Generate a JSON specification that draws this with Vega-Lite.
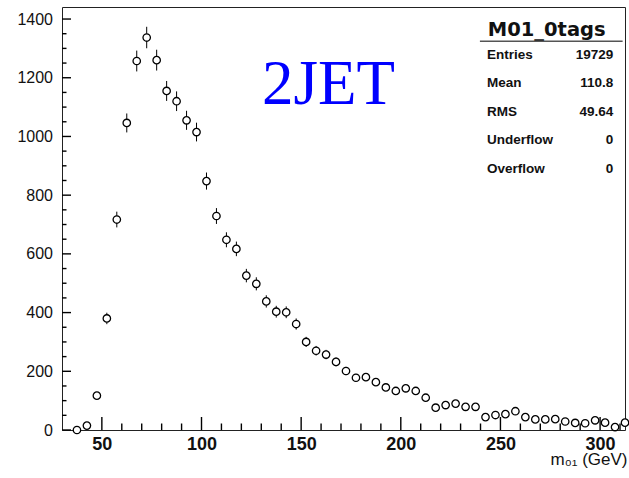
{
  "$schema": "https://vega.github.io/schema/vega-lite/v6.json",
  "width": 563,
  "height": 423,
  "autosize": {"type": "none"},
  "padding": {"left": 62, "top": 7, "right": 4, "bottom": 48},
  "background": "white",
  "config": {
    "font": "Liberation Sans",
    "view": {"stroke": "#222", "strokeWidth": 1},
    "axis": {"grid": false, "domain": false, "ticks": false, "labelFlush": false, "labelColor": "#111"}
  },
  "datasets": {
    "hist": [
      {"x": 37.5, "y": 0, "lo": 0, "hi": 0},
      {"x": 42.5, "y": 15, "lo": 11.1, "hi": 18.9},
      {"x": 47.5, "y": 117, "lo": 106.2, "hi": 127.8},
      {"x": 52.5, "y": 380, "lo": 360.5, "hi": 399.5},
      {"x": 57.5, "y": 717, "lo": 690.2, "hi": 743.8},
      {"x": 62.5, "y": 1046, "lo": 1013.7, "hi": 1078.3},
      {"x": 67.5, "y": 1257, "lo": 1221.5, "hi": 1292.5},
      {"x": 72.5, "y": 1337, "lo": 1300.4, "hi": 1373.6},
      {"x": 77.5, "y": 1260, "lo": 1224.5, "hi": 1295.5},
      {"x": 82.5, "y": 1155, "lo": 1121, "hi": 1189},
      {"x": 87.5, "y": 1120, "lo": 1086.5, "hi": 1153.5},
      {"x": 92.5, "y": 1055, "lo": 1022.5, "hi": 1087.5},
      {"x": 97.5, "y": 1015, "lo": 983.1, "hi": 1046.9},
      {"x": 102.5, "y": 848, "lo": 818.9, "hi": 877.1},
      {"x": 107.5, "y": 729, "lo": 702, "hi": 756},
      {"x": 112.5, "y": 648, "lo": 622.5, "hi": 673.5},
      {"x": 117.5, "y": 617, "lo": 592.2, "hi": 641.8},
      {"x": 122.5, "y": 526, "lo": 503.1, "hi": 548.9},
      {"x": 127.5, "y": 498, "lo": 475.7, "hi": 520.3},
      {"x": 132.5, "y": 438, "lo": 417.1, "hi": 458.9},
      {"x": 137.5, "y": 403, "lo": 382.9, "hi": 423.1},
      {"x": 142.5, "y": 401, "lo": 381, "hi": 421},
      {"x": 147.5, "y": 361, "lo": 342, "hi": 380},
      {"x": 152.5, "y": 300, "lo": 282.7, "hi": 317.3},
      {"x": 157.5, "y": 270, "lo": 253.6, "hi": 286.4},
      {"x": 162.5, "y": 257, "lo": 241, "hi": 273},
      {"x": 167.5, "y": 232, "lo": 216.8, "hi": 247.2},
      {"x": 172.5, "y": 201, "lo": 186.8, "hi": 215.2},
      {"x": 177.5, "y": 178, "lo": 164.7, "hi": 191.3},
      {"x": 182.5, "y": 180, "lo": 166.6, "hi": 193.4},
      {"x": 187.5, "y": 163, "lo": 150.2, "hi": 175.8},
      {"x": 192.5, "y": 145, "lo": 133, "hi": 157},
      {"x": 197.5, "y": 133, "lo": 121.5, "hi": 144.5},
      {"x": 202.5, "y": 142, "lo": 130.1, "hi": 153.9},
      {"x": 207.5, "y": 133, "lo": 121.5, "hi": 144.5},
      {"x": 212.5, "y": 110, "lo": 99.5, "hi": 120.5},
      {"x": 217.5, "y": 76, "lo": 67.3, "hi": 84.7},
      {"x": 222.5, "y": 85, "lo": 75.8, "hi": 94.2},
      {"x": 227.5, "y": 90, "lo": 80.5, "hi": 99.5},
      {"x": 232.5, "y": 79, "lo": 70.1, "hi": 87.9},
      {"x": 237.5, "y": 79, "lo": 70.1, "hi": 87.9},
      {"x": 242.5, "y": 44, "lo": 37.4, "hi": 50.6},
      {"x": 247.5, "y": 51, "lo": 43.9, "hi": 58.1},
      {"x": 252.5, "y": 54, "lo": 46.7, "hi": 61.3},
      {"x": 257.5, "y": 64, "lo": 56, "hi": 72},
      {"x": 262.5, "y": 44, "lo": 37.4, "hi": 50.6},
      {"x": 267.5, "y": 36, "lo": 30, "hi": 42},
      {"x": 272.5, "y": 36, "lo": 30, "hi": 42},
      {"x": 277.5, "y": 37, "lo": 30.9, "hi": 43.1},
      {"x": 282.5, "y": 29, "lo": 23.6, "hi": 34.4},
      {"x": 287.5, "y": 24, "lo": 19.1, "hi": 28.9},
      {"x": 292.5, "y": 23, "lo": 18.2, "hi": 27.8},
      {"x": 297.5, "y": 33, "lo": 27.3, "hi": 38.7},
      {"x": 302.5, "y": 25, "lo": 20, "hi": 30},
      {"x": 307.5, "y": 10, "lo": 6.8, "hi": 13.2},
      {"x": 312.5, "y": 25, "lo": 20, "hi": 30}
    ],
    "ymajor": [{"v": 0}, {"v": 200}, {"v": 400}, {"v": 600}, {"v": 800}, {"v": 1000}, {"v": 1200}, {"v": 1400}],
    "yminor": [{"v": 50}, {"v": 100}, {"v": 150}, {"v": 250}, {"v": 300}, {"v": 350}, {"v": 450}, {"v": 500}, {"v": 550}, {"v": 650}, {"v": 700}, {"v": 750}, {"v": 850}, {"v": 900}, {"v": 950}, {"v": 1050}, {"v": 1100}, {"v": 1150}, {"v": 1250}, {"v": 1300}, {"v": 1350}],
    "xmajor": [{"v": 50}, {"v": 100}, {"v": 150}, {"v": 200}, {"v": 250}, {"v": 300}],
    "xminor": [{"v": 60}, {"v": 70}, {"v": 80}, {"v": 90}, {"v": 110}, {"v": 120}, {"v": 130}, {"v": 140}, {"v": 160}, {"v": 170}, {"v": 180}, {"v": 190}, {"v": 210}, {"v": 220}, {"v": 230}, {"v": 240}, {"v": 260}, {"v": 270}, {"v": 280}, {"v": 290}, {"v": 310}],
    "stats": [
      {"label": "Entries", "value": "19729", "row": 1},
      {"label": "Mean", "value": "110.8", "row": 2},
      {"label": "RMS", "value": "49.64", "row": 3},
      {"label": "Underflow", "value": "0", "row": 4},
      {"label": "Overflow", "value": "0", "row": 5}
    ],
    "tag": [{"label": "2JET"}],
    "name": [{"label": "M01_0tags"}]
  },
  "resolve": {"scale": {"y": "independent"}, "axis": {"x": "independent", "y": "independent"}},
  "layer": [
    {
      "data": {"name": "hist"},
      "mark": {"type": "rule", "color": "black", "strokeWidth": 1},
      "encoding": {
        "x": {"field": "x", "type": "quantitative",
          "scale": {"domain": [30, 312.5], "nice": false, "zero": false},
          "axis": {"orient": "bottom", "values": [50, 100, 150, 200, 250, 300],
            "labelFontSize": 18, "labelFontWeight": "bold", "labelPadding": 5.5, "format": "d",
            "title": "m₀₁ (GeV)", "titleFontSize": 17, "titleFontWeight": "normal", "titleColor": "#111",
            "titleX": 565, "titleY": 34, "titleAlign": "right", "titleBaseline": "alphabetic", "titleAnchor": null}},
        "y": {"field": "lo", "type": "quantitative",
          "scale": {"domain": [0, 1441], "nice": false, "zero": false},
          "axis": {"orient": "left", "values": [0, 200, 400, 600, 800, 1000, 1200, 1400],
            "labelFontSize": 16, "labelPadding": 9.5, "format": "d", "title": null}},
        "y2": {"field": "hi"}
      }
    },
    {
      "data": {"name": "ymajor"},
      "mark": {"type": "tick", "orient": "horizontal", "size": 9, "thickness": 1.4, "color": "#000", "opacity": 1},
      "encoding": {
        "x": {"datum": 32.258, "type": "quantitative", "axis": null},
        "y": {"field": "v", "type": "quantitative", "scale": {"domain": [0, 1441], "nice": false, "zero": false}, "axis": null}
      }
    },
    {
      "data": {"name": "yminor"},
      "mark": {"type": "tick", "orient": "horizontal", "size": 4.5, "thickness": 1.4, "color": "#000", "opacity": 1},
      "encoding": {
        "x": {"datum": 31.129, "type": "quantitative", "axis": null},
        "y": {"field": "v", "type": "quantitative", "scale": {"domain": [0, 1441], "nice": false, "zero": false}, "axis": null}
      }
    },
    {
      "data": {"name": "xmajor"},
      "mark": {"type": "tick", "orient": "vertical", "size": 13, "thickness": 1.4, "color": "#000", "opacity": 1},
      "encoding": {
        "x": {"field": "v", "type": "quantitative", "axis": null},
        "y": {"datum": 22.143, "type": "quantitative", "scale": {"domain": [0, 1441], "nice": false, "zero": false}, "axis": null}
      }
    },
    {
      "data": {"name": "xminor"},
      "mark": {"type": "tick", "orient": "vertical", "size": 6.5, "thickness": 1.4, "color": "#000", "opacity": 1},
      "encoding": {
        "x": {"field": "v", "type": "quantitative", "axis": null},
        "y": {"datum": 11.072, "type": "quantitative", "scale": {"domain": [0, 1441], "nice": false, "zero": false}, "axis": null}
      }
    },
    {
      "data": {"name": "hist"},
      "mark": {"type": "point", "shape": "circle", "size": 55, "filled": true, "fill": "white", "stroke": "black", "strokeWidth": 1.3, "opacity": 1},
      "encoding": {
        "x": {"field": "x", "type": "quantitative", "axis": null},
        "y": {"field": "y", "type": "quantitative", "scale": {"domain": [0, 1441], "nice": false, "zero": false}, "axis": null}
      }
    },
    {
      "data": {"name": "tag"},
      "mark": {"type": "text", "font": "Liberation Serif", "fontSize": 63, "color": "#0000ff", "align": "left", "baseline": "alphabetic"},
      "encoding": {
        "text": {"field": "label"},
        "x": {"datum": 130.3, "type": "quantitative", "axis": null},
        "y": {"datum": 1110.5, "type": "quantitative", "scale": {"domain": [0, 1441], "nice": false, "zero": false}, "axis": null}
      }
    },
    {
      "data": {"name": "name"},
      "mark": {"type": "text", "font": "DejaVu Sans", "fontWeight": "bold", "fontSize": 19.5, "color": "#111", "align": "center", "baseline": "alphabetic"},
      "encoding": {
        "text": {"field": "label"},
        "x": {"datum": 273.2, "type": "quantitative", "axis": null},
        "y": {"datum": 1343.1, "type": "quantitative", "scale": {"domain": [0, 1441], "nice": false, "zero": false}, "axis": null}
      }
    },
    {
      "data": {"name": "name"},
      "mark": {"type": "rule", "color": "#555", "strokeWidth": 1.5},
      "encoding": {
        "x": {"datum": 239.7, "type": "quantitative", "axis": null},
        "x2": {"datum": 311.3},
        "y": {"datum": 1324.1, "type": "quantitative", "scale": {"domain": [0, 1441], "nice": false, "zero": false}, "axis": null}
      }
    },
    {
      "data": {"name": "stats"},
      "mark": {"type": "text", "font": "Liberation Sans", "fontWeight": "bold", "fontSize": 13.5, "color": "#111", "align": "left", "baseline": "alphabetic"},
      "encoding": {
        "text": {"field": "label"},
        "x": {"datum": 243.2, "type": "quantitative", "axis": null},
        "y": {"field": "row", "type": "quantitative", "scale": {"domain": [-0.829, 14.05], "nice": false, "zero": false, "reverse": true}, "axis": null}
      }
    },
    {
      "data": {"name": "stats"},
      "mark": {"type": "text", "font": "Liberation Sans", "fontWeight": "bold", "fontSize": 13.5, "color": "#111", "align": "right", "baseline": "alphabetic"},
      "encoding": {
        "text": {"field": "value"},
        "x": {"datum": 306.6, "type": "quantitative", "axis": null},
        "y": {"field": "row", "type": "quantitative", "scale": {"domain": [-0.829, 14.05], "nice": false, "zero": false, "reverse": true}, "axis": null}
      }
    }
  ]
}
